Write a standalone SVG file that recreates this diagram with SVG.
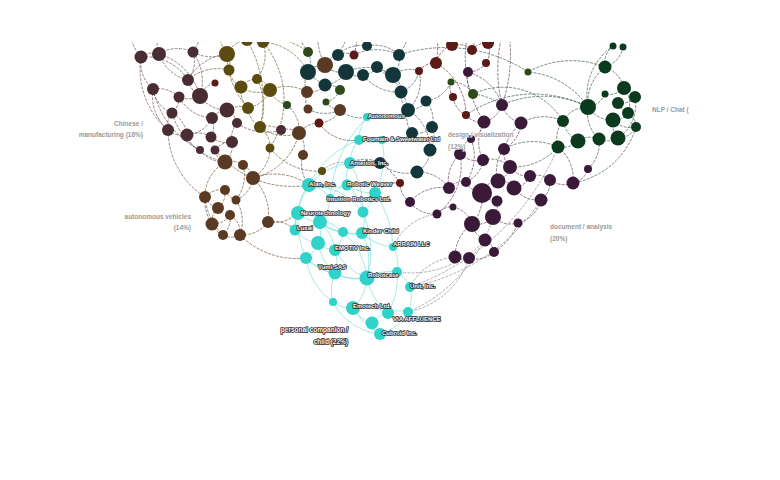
<svg xmlns="http://www.w3.org/2000/svg" width="780" height="480" viewBox="0 0 780 480">
<style>
.e{fill:none;stroke-width:.75;stroke-dasharray:3 1.2;stroke-opacity:.9}
.em{stroke:#6e4e55}.eo{stroke:#6e5e28}.eb{stroke:#6e5038}.et{stroke:#45595c}.er{stroke:#6e3630}
.ep{stroke:#5e405a}.en{stroke:#355a42}.eg{stroke:#8a8a8a}.ec{stroke:#4fd6ce;stroke-opacity:.85;stroke-dasharray:none;stroke-width:.6}
.m{fill:#4a2c33}.o{fill:#5b4b0f}.b{fill:#5a3a22}.t{fill:#12363a}.r{fill:#5c1a16}.p{fill:#3a1a38}.n{fill:#0b3a1f}.g{fill:#2c4a1c}.c{fill:#2fd3c9}
.lb{font-family:"Liberation Sans",Arial,sans-serif;font-size:6px;font-weight:bold;fill:#fff;stroke:#2a2a2a;stroke-width:1.6;paint-order:stroke;stroke-linejoin:round}
.cl{font-family:"Liberation Sans",Arial,sans-serif;font-size:6.5px;font-weight:bold;fill:#9a9a9a;stroke:#fff;stroke-width:1.2;paint-order:stroke}
.cd{font-family:"Liberation Sans",Arial,sans-serif;font-size:6.5px;font-weight:bold;fill:#fff;stroke:#2a2a2a;stroke-width:1.7;paint-order:stroke;stroke-linejoin:round}
</style>
<defs><clipPath id="clip"><rect x="0" y="42" width="780" height="438"/></clipPath></defs>
<rect width="780" height="480" fill="#fff"/>
<g clip-path="url(#clip)">
<g id="connectors">
<path class="e em" d="M141 57A20 20 0 0 1 159 54M141 57A35 35 0 0 0 153 89M159 54A35 35 0 0 1 193 52M159 54A40 40 0 0 0 188 80M193 52A30 30 0 0 1 188 80M188 80A25 25 0 0 0 200 96M153 89A30 30 0 0 1 179 97M153 89A45 45 0 0 0 168 130M200 96A25 25 0 0 1 179 97M200 96A32 32 0 0 0 227 110M179 97A20 20 0 0 1 172 113M172 113A20 20 0 0 0 168 130M172 113A28 28 0 0 1 187 135M227 110A20 20 0 0 0 212 118M227 110A20 20 0 0 1 237 123M212 118A22 22 0 0 1 211 137M237 123A22 22 0 0 0 232 142M168 130A22 22 0 0 0 187 135M187 135A25 25 0 0 1 211 137M211 137A25 25 0 0 0 232 142M187 135A22 22 0 0 0 200 150M215 150A20 20 0 0 1 232 142M200 96A20 20 0 0 1 215 83M188 80A50 50 0 0 1 227 54M193 52A40 40 0 0 0 227 54M227 110A25 25 0 0 1 248 108M237 123A50 50 0 0 0 281 130M281 130A20 20 0 0 1 299 133M232 142A22 22 0 0 1 225 162M200 150A30 30 0 0 0 225 162M168 130A80 80 0 0 0 205 197M141 57A80 80 0 0 0 168 130M159 54A60 60 0 0 1 200 96M212 118A30 30 0 0 1 187 135M179 97A40 40 0 0 0 212 118M153 89A30 30 0 0 0 172 113M141 57A50 50 0 0 1 188 80M193 52A50 50 0 0 1 200 96M141 57A60 60 0 0 1 130 0M159 54A60 60 0 0 1 170 0M193 52A60 60 0 0 0 200 0M172 113A70 70 0 0 0 225 162M153 89A90 90 0 0 0 200 150"/>
<path class="e eo" d="M227 54A18 18 0 0 1 229 70M227 54A25 25 0 0 1 247 40M229 70A22 22 0 0 0 241 87M247 40A18 18 0 0 1 263 42M263 42A40 40 0 0 1 257 79M241 87A20 20 0 0 1 257 79M241 87A30 30 0 0 0 270 90M257 79A20 20 0 0 1 270 90M270 90A30 30 0 0 1 248 108M248 108A25 25 0 0 0 260 127M260 127A25 25 0 0 1 270 148M241 87A25 25 0 0 0 248 108M270 90A40 40 0 0 1 307 92M247 40A70 70 0 0 1 308 52M263 42A55 55 0 0 1 308 72M260 127A40 40 0 0 0 299 133M270 148A60 60 0 0 0 322 171M229 70A45 45 0 0 0 188 80M260 127A25 25 0 0 1 281 130M270 90A25 25 0 0 0 287 105M270 148A35 35 0 0 1 253 178M247 40A60 60 0 0 0 240 0M263 42A60 60 0 0 1 275 0M227 54A60 60 0 0 1 220 0M257 79A60 60 0 0 1 260 127M227 54A80 80 0 0 0 248 108M263 42A90 90 0 0 1 270 148M247 40A120 120 0 0 1 260 127M252 40A150 150 0 0 0 255 0M258 42A150 150 0 0 1 265 0"/>
<path class="e eb" d="M225 162A20 20 0 0 1 243 165M225 162A40 40 0 0 0 205 197M253 178A18 18 0 0 0 243 165M253 178A50 50 0 0 1 268 222M205 197A22 22 0 0 1 225 190M225 190A20 20 0 0 1 218 208M218 208A18 18 0 0 0 212 224M212 224A20 20 0 0 0 230 215M230 215A22 22 0 0 1 223 235M223 235A18 18 0 0 0 240 235M240 235A32 32 0 0 0 268 222M205 197A20 20 0 0 0 218 208M212 224A20 20 0 0 0 223 235M225 190A18 18 0 0 0 236 200M236 200A28 28 0 0 0 253 178M236 200A40 40 0 0 1 240 235M268 222A35 35 0 0 0 298 213M253 178A60 60 0 0 1 309 185M230 215A20 20 0 0 1 240 235M225 162A15 15 0 0 1 215 150M205 197A40 40 0 0 0 212 224M243 165A40 40 0 0 1 236 200M268 222A30 30 0 0 1 295 230M240 235A80 80 0 0 0 306 258M215 150A100 100 0 0 0 309 185M299 133A60 60 0 0 1 253 178M205 197A60 60 0 0 0 223 235"/>
<path class="e et" d="M308 52A22 22 0 0 1 308 72M308 72A20 20 0 0 1 325 65M325 65A18 18 0 0 1 338 55M325 65A22 22 0 0 0 346 72M338 55A32 32 0 0 1 367 46M346 72A18 18 0 0 0 363 75M363 75A18 18 0 0 0 377 67M367 46A35 35 0 0 1 399 55M377 67A18 18 0 0 0 393 75M399 55A22 22 0 0 1 393 75M308 72A22 22 0 0 0 307 92M307 92A20 20 0 0 0 325 85M325 85A18 18 0 0 1 340 90M340 90A20 20 0 0 1 326 102M326 102A18 18 0 0 0 340 110M307 92A20 20 0 0 0 308 109M308 109A35 35 0 0 0 340 110M340 110A25 25 0 0 1 319 123M319 123A25 25 0 0 0 299 133M346 72A28 28 0 0 1 325 85M393 75A20 20 0 0 1 401 92M401 92A20 20 0 0 0 408 110M408 110A20 20 0 0 0 426 101M426 101A28 28 0 0 1 432 127M408 110A25 25 0 0 0 412 133M412 133A22 22 0 0 0 432 127M432 127A25 25 0 0 1 430 150M430 150A26 26 0 0 1 417 172M417 172A40 40 0 0 1 380 163M380 163A32 32 0 0 0 350 163M412 133A32 32 0 0 1 382 140M393 75A28 28 0 0 1 419 71M338 55A18 18 0 0 1 354 55M354 55A50 50 0 0 1 399 55M299 133A23 23 0 0 1 303 155M303 155A32 32 0 0 0 309 185M287 105A32 32 0 0 1 299 133M401 92A28 28 0 0 0 419 71M426 101A32 32 0 0 0 451 82M363 75A45 45 0 0 0 401 92M340 110A30 30 0 0 0 367 117M408 110A45 45 0 0 1 430 150M419 71A40 40 0 0 1 408 110M367 46A60 60 0 0 0 360 0M325 65A60 60 0 0 1 330 0M338 55A60 60 0 0 0 345 0M308 52A90 90 0 0 1 290 0M399 55A70 70 0 0 0 410 0M308 72A60 60 0 0 0 325 85M346 72A50 50 0 0 1 393 75M377 67A60 60 0 0 1 408 110"/>
<path class="e er" d="M419 71A20 20 0 0 1 436 63M436 63A25 25 0 0 1 452 45M452 45A22 22 0 0 1 472 50M472 50A18 18 0 0 1 488 43M488 43A22 22 0 0 1 486 63M486 63A22 22 0 0 1 468 72M451 82A16 16 0 0 0 453 97M453 97A23 23 0 0 0 466 115M466 115A20 20 0 0 0 484 122M436 63A60 60 0 0 1 466 115M452 45A60 60 0 0 0 445 0M488 43A60 60 0 0 1 495 0M472 50A60 60 0 0 0 470 0M436 63A90 90 0 0 0 425 0M400 183A28 28 0 0 0 375 193M400 183A70 70 0 0 0 380 163M319 123A40 40 0 0 0 359 140M354 55A80 80 0 0 0 350 0"/>
<path class="e en" d="M468 72A24 24 0 0 0 473 94M451 82A25 25 0 0 1 473 94M473 94A60 60 0 0 1 502 105"/>
<path class="e ep" d="M468 72A50 50 0 0 1 502 105M502 105A25 25 0 0 1 484 122M502 105A26 26 0 0 0 521 123M484 122A22 22 0 0 1 471 139M521 123A32 32 0 0 1 504 149M471 139A20 20 0 0 0 460 154M504 149A20 20 0 0 0 510 167M460 154A25 25 0 0 0 483 160M483 160A28 28 0 0 1 510 167M483 160A28 28 0 0 1 466 182M510 167A22 22 0 0 0 530 176M530 176A22 22 0 0 1 550 180M550 180A24 24 0 0 0 573 183M573 183A20 20 0 0 0 588 169M449 188A18 18 0 0 1 466 182M466 182A20 20 0 0 0 482 193M498 181A18 18 0 0 1 514 188M498 181A18 18 0 0 0 482 193M514 188A30 30 0 0 0 541 200M482 193A18 18 0 0 0 497 201M497 201A18 18 0 0 1 493 217M493 217A22 22 0 0 1 472 224M493 217A26 26 0 0 0 518 223M472 224A22 22 0 0 0 485 240M485 240A16 16 0 0 1 494 252M494 252A26 26 0 0 1 469 258M455 257A15 15 0 0 0 469 258M472 224A40 40 0 0 0 455 257M449 188A42 42 0 0 0 410 202M410 202A30 30 0 0 0 437 214M437 214A18 18 0 0 1 453 207M453 207A25 25 0 0 1 472 224M510 167A20 20 0 0 1 498 181M504 149A35 35 0 0 0 498 181M521 123A45 45 0 0 1 563 121M550 180A22 22 0 0 1 541 200M541 200A32 32 0 0 1 518 223M484 122A40 40 0 0 0 483 160M460 154A36 36 0 0 0 449 188M530 176A20 20 0 0 1 514 188M471 139A45 45 0 0 1 466 182M410 202A22 22 0 0 1 400 183M482 193A40 40 0 0 1 472 224M573 183A40 40 0 0 0 558 147M588 169A35 35 0 0 0 599 139M449 188A38 38 0 0 0 417 172M502 105A150 150 0 0 0 500 0M502 105A150 150 0 0 1 515 0M484 122A120 120 0 0 1 480 0M521 123A60 60 0 0 0 504 149M460 154A60 60 0 0 1 437 214M494 252A60 60 0 0 0 518 223"/>
<path class="e eg" d="M437 214A55 55 0 0 0 393 247M455 257A55 55 0 0 0 410 287M485 240A100 100 0 0 1 397 272M469 258A80 80 0 0 1 408 312M558 147A250 250 0 0 1 410 287M541 200A200 200 0 0 1 410 287M493 217A150 150 0 0 1 408 312M322 171A30 30 0 0 1 350 163"/>
<path class="e en" d="M613 46A22 22 0 0 0 605 67M623 47A25 25 0 0 1 605 67M605 67A30 30 0 0 1 624 88M605 67A45 45 0 0 0 588 107M624 88A15 15 0 0 1 635 97M624 88A20 20 0 0 1 605 94M635 97A18 18 0 0 1 618 103M605 94A22 22 0 0 1 588 107M618 103A15 15 0 0 0 628 113M588 107A28 28 0 0 0 613 120M628 113A16 16 0 0 1 613 120M613 120A24 24 0 0 0 636 127M613 120A20 20 0 0 0 618 138M618 138A20 20 0 0 1 599 139M599 139A22 22 0 0 0 578 141M578 141A22 22 0 0 1 558 147M563 121A28 28 0 0 0 578 141M563 121A28 28 0 0 1 588 107M558 147A28 28 0 0 1 563 121M628 113A16 16 0 0 1 636 127M618 138A20 20 0 0 0 636 127M588 107A35 35 0 0 0 599 139M588 107A80 80 0 0 0 528 72M528 72A150 150 0 0 0 399 55M605 67A90 90 0 0 0 528 72M588 107A100 100 0 0 0 502 105M558 147A60 60 0 0 1 510 167M558 147A60 60 0 0 0 504 149M636 127A80 80 0 0 1 573 183M588 107A60 60 0 0 1 613 46M635 97A40 40 0 0 1 618 138M624 88A25 25 0 0 1 628 113M563 121A70 70 0 0 0 473 94M588 107A120 120 0 0 0 466 115"/>
<path class="e ec" d="M367 117A35 35 0 0 0 359 140M359 140A25 25 0 0 0 382 140M359 140A35 35 0 0 0 350 163M382 140A80 80 0 0 1 375 193M350 163A34 34 0 0 0 347 185M350 163A65 65 0 0 0 309 185M309 185A60 60 0 0 0 347 185M309 185A45 45 0 0 0 298 213M347 185A45 45 0 0 0 375 193M347 185A45 45 0 0 1 363 212M375 193A32 32 0 0 1 363 212M298 213A34 34 0 0 0 320 222M298 213A28 28 0 0 0 295 230M320 222A35 35 0 0 0 343 232M320 222A32 32 0 0 1 318 243M295 230A35 35 0 0 0 318 243M343 232A30 30 0 0 0 362 233M362 233A32 32 0 0 0 363 212M343 232A30 30 0 0 1 335 250M318 243A28 28 0 0 0 335 250M318 243A28 28 0 0 1 306 258M306 258A45 45 0 0 0 335 273M335 250A34 34 0 0 1 335 273M335 250A60 60 0 0 0 367 278M335 273A45 45 0 0 0 367 278M367 278A45 45 0 0 1 397 272M397 272A30 30 0 0 1 410 287M367 278A45 45 0 0 1 353 308M335 273A45 45 0 0 0 333 302M333 302A30 30 0 0 0 353 308M353 308A34 34 0 0 0 372 323M353 308A50 50 0 0 1 388 313M372 323A20 20 0 0 0 380 334M388 313A30 30 0 0 1 408 312M372 323A28 28 0 0 1 388 313M367 278A60 60 0 0 0 388 313M410 287A36 36 0 0 1 408 312M362 233A50 50 0 0 0 393 247M393 247A35 35 0 0 1 397 272M330 198A32 32 0 0 0 309 185M330 198A28 28 0 0 1 347 185M330 198A35 35 0 0 1 320 222M367 117A130 130 0 0 0 330 198M359 140A90 90 0 0 0 309 185M363 212A100 100 0 0 1 367 278M320 222A45 45 0 0 1 335 250M306 258A65 65 0 0 0 333 302M380 334A45 45 0 0 0 408 312M343 232A70 70 0 0 1 367 278M362 233A65 65 0 0 1 367 278M318 243A50 50 0 0 0 335 273M350 163A90 90 0 0 1 363 212M309 185A90 90 0 0 0 295 230M298 213A90 90 0 0 0 306 258M375 193A100 100 0 0 1 393 247M380 334A60 60 0 0 1 333 302M353 308A70 70 0 0 0 380 334M397 272A70 70 0 0 1 388 313M320 222A60 60 0 0 0 362 233M309 185A70 70 0 0 1 363 212M306 258A80 80 0 0 0 367 278M298 213A80 80 0 0 1 343 232"/>
</g>
<g id="maroon">
<circle class="m" cx="141" cy="57" r="6.5"/><circle class="m" cx="159" cy="54" r="7"/><circle class="m" cx="193" cy="52" r="5.5"/><circle class="m" cx="188" cy="80" r="6"/><circle class="m" cx="153" cy="89" r="6"/><circle class="m" cx="200" cy="96" r="8"/><circle class="m" cx="179" cy="97" r="5.5"/><circle class="m" cx="172" cy="113" r="5.5"/><circle class="m" cx="227" cy="110" r="7.5"/><circle class="m" cx="212" cy="118" r="6"/><circle class="m" cx="237" cy="123" r="5"/><circle class="m" cx="168" cy="130" r="6"/><circle class="m" cx="187" cy="135" r="6.5"/><circle class="m" cx="211" cy="137" r="5.5"/><circle class="m" cx="232" cy="142" r="6"/><circle class="m" cx="281" cy="130" r="5"/><circle class="m" cx="215" cy="150" r="4.5"/><circle class="m" cx="200" cy="150" r="4"/>
</g>
<g id="olive">
<circle class="o" cx="227" cy="54" r="8"/><circle class="o" cx="229" cy="70" r="5.5"/><circle class="o" cx="247" cy="40" r="6"/><circle class="o" cx="263" cy="42" r="6"/><circle class="o" cx="241" cy="87" r="6.5"/><circle class="o" cx="257" cy="79" r="5"/><circle class="o" cx="270" cy="90" r="7"/><circle class="o" cx="248" cy="108" r="6"/><circle class="o" cx="260" cy="127" r="6"/><circle class="o" cx="270" cy="148" r="4.5"/><circle class="o" cx="322" cy="171" r="4"/>
</g>
<g id="brown">
<circle class="b" cx="299" cy="133" r="7"/><circle class="b" cx="325" cy="65" r="8"/><circle class="b" cx="307" cy="92" r="6"/><circle class="b" cx="308" cy="109" r="4.5"/><circle class="b" cx="340" cy="110" r="6"/><circle class="b" cx="303" cy="155" r="5"/><circle class="b" cx="253" cy="178" r="7"/><circle class="b" cx="225" cy="162" r="7.5"/><circle class="b" cx="243" cy="165" r="5"/><circle class="b" cx="205" cy="197" r="6"/><circle class="b" cx="225" cy="190" r="5"/><circle class="b" cx="218" cy="208" r="6"/><circle class="b" cx="212" cy="224" r="6.5"/><circle class="b" cx="230" cy="215" r="5"/><circle class="b" cx="223" cy="235" r="5"/><circle class="b" cx="240" cy="235" r="6"/><circle class="b" cx="268" cy="222" r="6"/><circle class="b" cx="236" cy="200" r="4.5"/>
</g>
<g id="green-small">
<circle class="g" cx="308" cy="52" r="5"/><circle class="g" cx="287" cy="105" r="4"/><circle class="g" cx="340" cy="90" r="5"/><circle class="g" cx="326" cy="102" r="3.5"/><circle class="g" cx="451" cy="82" r="3.5"/><circle class="g" cx="473" cy="94" r="5"/><circle class="g" cx="528" cy="72" r="3.5"/>
</g>
<g id="red">
<circle class="r" cx="215" cy="83" r="3.5"/><circle class="r" cx="354" cy="55" r="4.5"/><circle class="r" cx="419" cy="71" r="4"/><circle class="r" cx="436" cy="63" r="6"/><circle class="r" cx="319" cy="123" r="4.5"/><circle class="r" cx="452" cy="45" r="6"/><circle class="r" cx="472" cy="50" r="5"/><circle class="r" cx="488" cy="43" r="6"/><circle class="r" cx="486" cy="63" r="4"/><circle class="r" cx="453" cy="97" r="4"/><circle class="r" cx="466" cy="115" r="4"/><circle class="r" cx="400" cy="183" r="4"/>
</g>
<g id="teal">
<circle class="t" cx="308" cy="72" r="8"/><circle class="t" cx="338" cy="55" r="6"/><circle class="t" cx="346" cy="72" r="8"/><circle class="t" cx="363" cy="75" r="6"/><circle class="t" cx="367" cy="46" r="5"/><circle class="t" cx="377" cy="67" r="6"/><circle class="t" cx="399" cy="55" r="6"/><circle class="t" cx="393" cy="75" r="8"/><circle class="t" cx="325" cy="85" r="6.5"/><circle class="t" cx="401" cy="92" r="6.5"/><circle class="t" cx="408" cy="110" r="7"/><circle class="t" cx="426" cy="101" r="5.5"/><circle class="t" cx="412" cy="133" r="6"/><circle class="t" cx="432" cy="127" r="6"/><circle class="t" cx="430" cy="150" r="6.5"/><circle class="t" cx="417" cy="172" r="6.5"/><circle class="t" cx="380" cy="163" r="6"/>
</g>
<g id="purple">
<circle class="p" cx="468" cy="72" r="5"/><circle class="p" cx="502" cy="105" r="6"/><circle class="p" cx="484" cy="122" r="6.5"/><circle class="p" cx="521" cy="123" r="6.5"/><circle class="p" cx="471" cy="139" r="4"/><circle class="p" cx="504" cy="149" r="6"/><circle class="p" cx="460" cy="154" r="6"/><circle class="p" cx="483" cy="160" r="6"/><circle class="p" cx="510" cy="167" r="7"/><circle class="p" cx="530" cy="176" r="6"/><circle class="p" cx="550" cy="180" r="6"/><circle class="p" cx="573" cy="183" r="6.5"/><circle class="p" cx="449" cy="188" r="6"/><circle class="p" cx="466" cy="182" r="5"/><circle class="p" cx="498" cy="181" r="7.5"/><circle class="p" cx="514" cy="188" r="7.5"/><circle class="p" cx="482" cy="193" r="10"/><circle class="p" cx="497" cy="201" r="5.5"/><circle class="p" cx="541" cy="200" r="6.5"/><circle class="p" cx="410" cy="202" r="5"/><circle class="p" cx="453" cy="207" r="3.5"/><circle class="p" cx="437" cy="214" r="4.5"/><circle class="p" cx="493" cy="217" r="8"/><circle class="p" cx="472" cy="224" r="8"/><circle class="p" cx="518" cy="223" r="4.5"/><circle class="p" cx="485" cy="240" r="6.5"/><circle class="p" cx="494" cy="252" r="5"/><circle class="p" cx="455" cy="257" r="6.5"/><circle class="p" cx="469" cy="258" r="6"/><circle class="p" cx="588" cy="169" r="4"/>
</g>
<g id="nlp">
<circle class="n" cx="613" cy="46" r="3.5"/><circle class="n" cx="623" cy="47" r="3.5"/><circle class="n" cx="605" cy="67" r="6.5"/><circle class="n" cx="624" cy="88" r="7"/><circle class="n" cx="635" cy="97" r="6"/><circle class="n" cx="605" cy="94" r="3.5"/><circle class="n" cx="618" cy="103" r="6"/><circle class="n" cx="588" cy="107" r="8"/><circle class="n" cx="628" cy="113" r="6"/><circle class="n" cx="613" cy="120" r="7.5"/><circle class="n" cx="636" cy="127" r="5"/><circle class="n" cx="563" cy="121" r="6"/><circle class="n" cx="618" cy="138" r="7.5"/><circle class="n" cx="599" cy="139" r="6.5"/><circle class="n" cx="578" cy="141" r="7.5"/><circle class="n" cx="558" cy="147" r="6.5"/>
</g>
<g id="cyan">
<circle class="c" cx="367" cy="117" r="4"/><circle class="c" cx="359" cy="140" r="5"/><circle class="c" cx="382" cy="140" r="4"/><circle class="c" cx="350" cy="163" r="6"/><circle class="c" cx="309" cy="185" r="7"/><circle class="c" cx="347" cy="185" r="5.5"/><circle class="c" cx="375" cy="193" r="6"/><circle class="c" cx="298" cy="213" r="7"/><circle class="c" cx="320" cy="222" r="7"/><circle class="c" cx="295" cy="230" r="5.5"/><circle class="c" cx="343" cy="232" r="5"/><circle class="c" cx="362" cy="233" r="6"/><circle class="c" cx="363" cy="212" r="5.5"/><circle class="c" cx="318" cy="243" r="7"/><circle class="c" cx="335" cy="250" r="6"/><circle class="c" cx="306" cy="258" r="6"/><circle class="c" cx="393" cy="247" r="4"/><circle class="c" cx="335" cy="273" r="6.5"/><circle class="c" cx="367" cy="278" r="7.5"/><circle class="c" cx="397" cy="272" r="5"/><circle class="c" cx="410" cy="287" r="5"/><circle class="c" cx="333" cy="302" r="4"/><circle class="c" cx="353" cy="308" r="7"/><circle class="c" cx="372" cy="323" r="6.5"/><circle class="c" cx="380" cy="334" r="6"/><circle class="c" cx="388" cy="313" r="6"/><circle class="c" cx="408" cy="312" r="5"/><circle class="c" cx="330" cy="198" r="4"/>
</g>
</g>
<g id="labels">
<text class="lb" x="368" y="118">Autonomous</text>
<text class="lb" x="363" y="141">Fountain &amp; Sweetwater Ltd</text>
<text class="lb" x="350" y="165">Anterion, Inc.</text>
<text class="lb" x="309" y="186">Alan, Inc.</text>
<text class="lb" x="347" y="186">Robotic Weaver</text>
<text class="lb" x="327" y="201">Intuition Robotics Ltd.</text>
<text class="lb" x="301" y="215">Neurotechnology</text>
<text class="lb" x="297" y="230">Luxai</text>
<text class="lb" x="363" y="233">Kinder Child</text>
<text class="lb" x="393" y="246">ARRAIN LLC</text>
<text class="lb" x="335" y="250">EMOTIV Inc.</text>
<text class="lb" x="318" y="269">Yumi SAS</text>
<text class="lb" x="368" y="277">Robotcase</text>
<text class="lb" x="410" y="288">Unit, Inc.</text>
<text class="lb" x="353" y="308">Emotech Ltd.</text>
<text class="lb" x="393" y="321">VIA AFFLUENCE</text>
<text class="lb" x="382" y="335">Cubroid Inc.</text>
<text class="cd" text-anchor="end" x="348" y="332">personal companion /</text>
<text class="cd" text-anchor="end" x="348" y="344">child (22%)</text>
<text class="cl" text-anchor="end" x="143" y="126">Chinese /</text>
<text class="cl" text-anchor="end" x="143" y="137">manufacturing (16%)</text>
<text class="cl" text-anchor="end" x="191" y="219">autonomous vehicles</text>
<text class="cl" text-anchor="end" x="191" y="230">(14%)</text>
<text class="cl" x="448" y="137">design / visualization</text>
<text class="cl" x="448" y="149">(12%)</text>
<text class="cl" x="550" y="229">document / analysis</text>
<text class="cl" x="550" y="241">(20%)</text>
<text class="cl" x="652" y="112">NLP / Chat (</text>
</g>
</svg>
